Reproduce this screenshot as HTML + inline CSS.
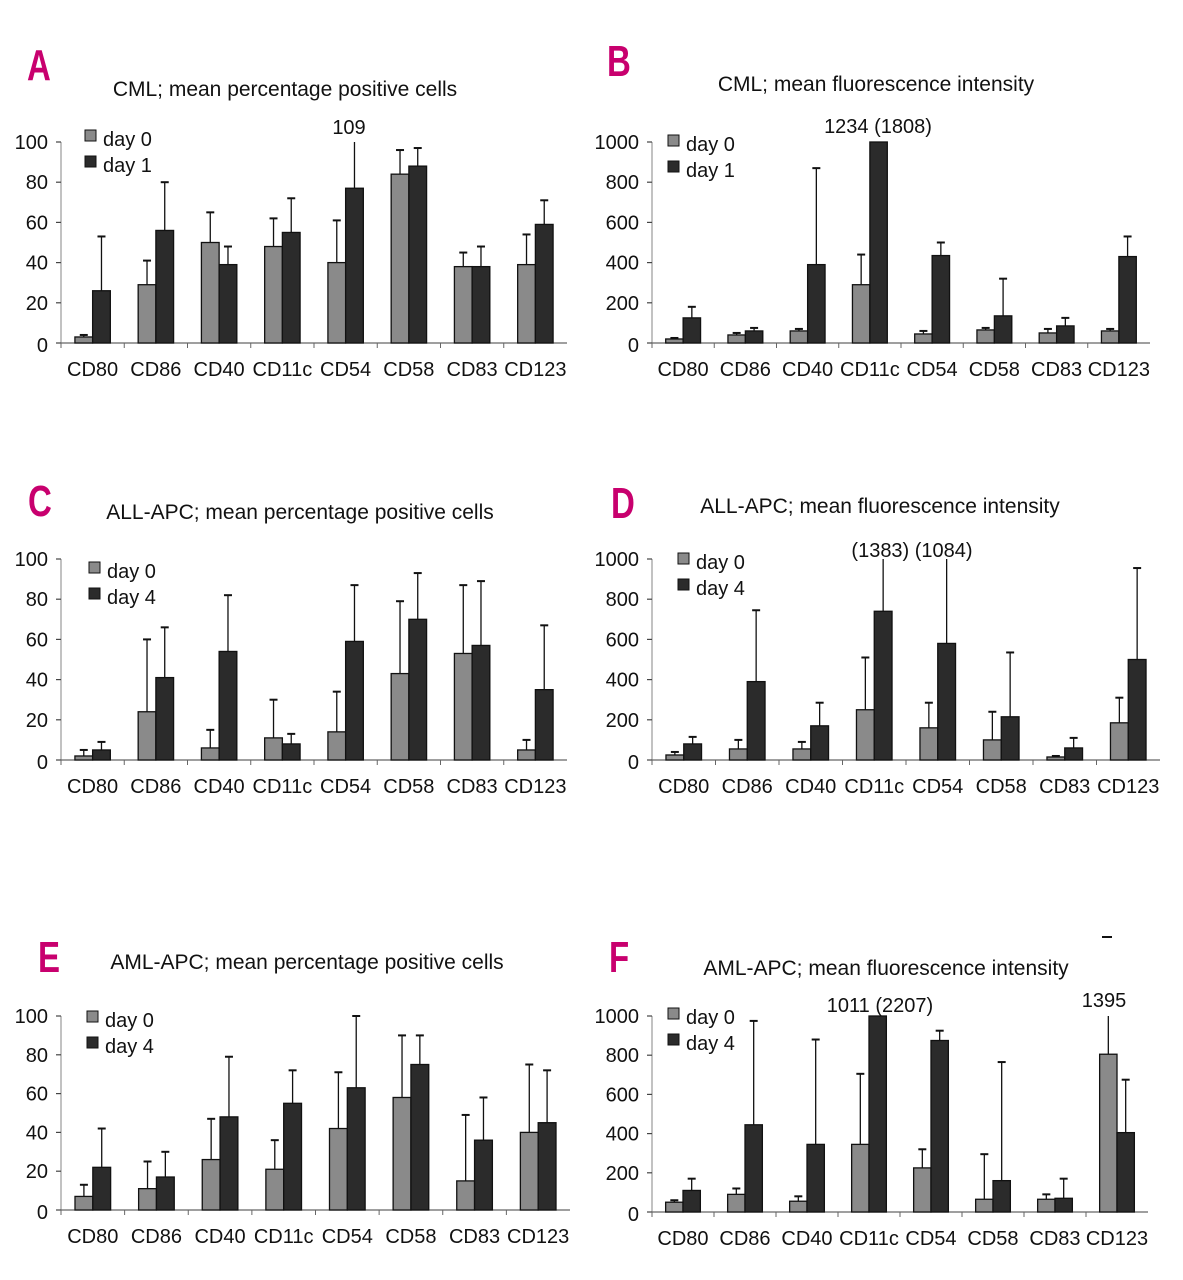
<!DOCTYPE html>
<html><head><meta charset="utf-8">
<style>
html,body{margin:0;padding:0;background:#fff;}
svg{display:block;font-family:"Liberation Sans Narrow","Liberation Sans",sans-serif;}
.t{font-size:20px;fill:#111;}
.ttl{font-size:21px;fill:#111;}
.lt{font-size:44px;font-weight:bold;fill:#c8006e;}
</style></head>
<body>
<svg id="fig" width="1183" height="1280" viewBox="0 0 1183 1280"></svg>
<script>
const categories = ["CD80","CD86","CD40","CD11c","CD54","CD58","CD83","CD123"];
const pctTicks = [0,20,40,60,80,100];
const mfiTicks = [0,200,400,600,800,1000];

const aDay0 = [3,29,50,48,40,84,38,39];
const aDay0Err = [4,41,65,62,61,96,45,54];
const aDay1 = [26,56,39,55,77,88,38,59];
const aDay1Err = [53,80,48,72,109,97,48,71];

const bDay0 = [20,40,60,290,45,65,50,60];
const bDay0Err = [25,50,70,440,60,75,70,70];
const bDay1 = [125,60,390,1234,435,135,85,430];
const bDay1Err = [180,75,870,1808,500,320,125,530];

const cDay0 = [2,24,6,11,14,43,53,5];
const cDay0Err = [5,60,15,30,34,79,87,10];
const cDay4 = [5,41,54,8,59,70,57,35];
const cDay4Err = [9,66,82,13,87,93,89,67];

const dDay0 = [25,55,55,250,160,100,15,185];
const dDay0Err = [40,100,90,510,285,240,20,310];
const dDay4 = [80,390,170,740,580,215,60,500];
const dDay4Err = [115,745,285,1383,1084,535,110,955];

const eDay0 = [7,11,26,21,42,58,15,40];
const eDay0Err = [13,25,47,36,71,90,49,75];
const eDay4 = [22,17,48,55,63,75,36,45];
const eDay4Err = [42,30,79,72,100,90,58,72];

const fDay0 = [50,90,55,345,225,65,65,805];
const fDay0Err = [60,120,80,705,320,295,90,1395];
const fDay4 = [110,445,345,1011,875,160,70,405];
const fDay4Err = [170,975,880,2207,925,765,170,675];

const NS = "http://www.w3.org/2000/svg";
const svg = document.getElementById("fig");
function mk(tag, attrs, parent, text){
  const e = document.createElementNS(NS, tag);
  for (const k in attrs) e.setAttribute(k, attrs[k]);
  if (text !== undefined) e.textContent = text;
  (parent || svg).appendChild(e);
  return e;
}

const panels = [
  {id:"a", letter:"A", lx:27, ly:80, title:"CML; mean percentage positive cells", tx:285, ty:96,
   x0:61, x1:567, y0:343, yt:142, max:100, ticks:pctTicks, d0:aDay0, e0:aDay0Err, d1:aDay1, e1:aDay1Err,
   leg:["day 0","day 1"], legX:85, legY:140, notes:[["109",349,134]]},
  {id:"b", letter:"B", lx:607, ly:76, title:"CML; mean fluorescence intensity", tx:876, ty:91,
   x0:652, x1:1150, y0:343, yt:142, max:1000, ticks:mfiTicks, d0:bDay0, e0:bDay0Err, d1:bDay1, e1:bDay1Err,
   leg:["day 0","day 1"], legX:668, legY:145, notes:[["1234 (1808)",878,133]]},
  {id:"c", letter:"C", lx:28, ly:516, title:"ALL-APC; mean percentage positive cells", tx:300, ty:519,
   x0:61, x1:567, y0:760, yt:559, max:100, ticks:pctTicks, d0:cDay0, e0:cDay0Err, d1:cDay4, e1:cDay4Err,
   leg:["day 0","day 4"], legX:89, legY:572, notes:[]},
  {id:"d", letter:"D", lx:611, ly:518, title:"ALL-APC; mean fluorescence intensity", tx:880, ty:513,
   x0:652, x1:1160, y0:760, yt:559, max:1000, ticks:mfiTicks, d0:dDay0, e0:dDay0Err, d1:dDay4, e1:dDay4Err,
   leg:["day 0","day 4"], legX:678, legY:563, notes:[["(1383) (1084)",912,557]]},
  {id:"e", letter:"E", lx:38, ly:972, title:"AML-APC; mean percentage positive cells", tx:307, ty:969,
   x0:61, x1:570, y0:1210, yt:1016, max:100, ticks:pctTicks, d0:eDay0, e0:eDay0Err, d1:eDay4, e1:eDay4Err,
   leg:["day 0","day 4"], legX:87, legY:1021, notes:[]},
  {id:"f", letter:"F", lx:609, ly:972, title:"AML-APC; mean fluorescence intensity", tx:886, ty:975,
   x0:652, x1:1148, y0:1212, yt:1016, max:1000, ticks:mfiTicks, d0:fDay0, e0:fDay0Err, d1:fDay4, e1:fDay4Err,
   leg:["day 0","day 4"], legX:668, legY:1018, notes:[["1011 (2207)",880,1012],["1395",1104,1007]]}
];

panels.forEach(p => {
  const g = mk("g", {});
  
  
  const yS = v => p.y0 - (Math.min(v, p.max) / p.max) * (p.y0 - p.yt);
  const gw = (p.x1 - p.x0) / categories.length;
  const bw = gw * 0.28;

  const L = mk("text", {x:0, y:0, class:"lt", transform:"translate(" + p.lx + "," + p.ly + ") scale(0.75,1)"}, g, p.letter);
  
  
  const T = mk("text", {x:p.tx, y:p.ty, class:"ttl", "text-anchor":"middle"}, g, p.title);
  
  

  const ya = mk("line", {x1:p.x0, y1:p.yt, x2:p.x0, y2:p.y0, stroke:"#999", "stroke-width":1.2}, g);
  
  
  p.ticks.forEach(t => {
    const y = yS(t);
    mk("line", {x1:p.x0-5, y1:y, x2:p.x0, y2:y, stroke:"#444", "stroke-width":1.2}, g);
    const tl = mk("text", {x:p.x0-13, y:y+(t===0?9:7), class:"t", "text-anchor":"end"}, g, String(t));
    
    
  });
  const xa = mk("line", {x1:p.x0, y1:p.y0, x2:p.x1, y2:p.y0, stroke:"#666", "stroke-width":1.2}, g);
  
  

  categories.forEach((c, i) => {
    const gx = p.x0 + gw * i;
    mk("line", {x1:gx, y1:p.y0, x2:gx, y2:p.y0+5, stroke:"#666", "stroke-width":1}, g);
    const cx = gx + gw / 2;
    const xl = mk("text", {x:cx, y:p.y0+33, class:"t", "text-anchor":"middle"}, g, c);
    
    
    [[p.d0, p.e0, "#8a8a8a", cx - bw], [p.d1, p.e1, "#2b2b2b", cx]].forEach((s, k) => {
      const v = s[0][i], e = s[1][i];
      const top = yS(v);
      const ex = s[3] + bw / 2;
      const ey = yS(e);
      const eb = mk("line", {x1:ex, y1:top, x2:ex, y2:ey, stroke:"#111", "stroke-width":1.3}, g);
      
      
      if (e <= p.max) mk("line", {x1:ex-4, y1:ey, x2:ex+4, y2:ey, stroke:"#111", "stroke-width":2}, g);
      const r = mk("rect", {x:s[3], y:top, width:bw, height:p.y0 - top, fill:s[2], stroke:"#111", "stroke-width":1.3}, g);
      
      
    });
  });

  p.leg.forEach((lab, k) => {
    const y = p.legY + k * 26;
    const sq = mk("rect", {x:p.legX, y:y-10, width:11, height:11, fill:k===0?"#8a8a8a":"#2b2b2b", stroke:"#111", "stroke-width":1}, g);
    
    
    const lt = mk("text", {x:p.legX+18, y:y+6, class:"t"}, g, lab);
    
    
  });

  p.notes.forEach(n => {
    const nt = mk("text", {x:n[1], y:n[2], class:"t", "text-anchor":"middle"}, g, n[0]);
    
    
  });
});
const dash = mk("line", {x1:1102, y1:937, x2:1112, y2:937, stroke:"#111", "stroke-width":2});


</script>
</body></html>
